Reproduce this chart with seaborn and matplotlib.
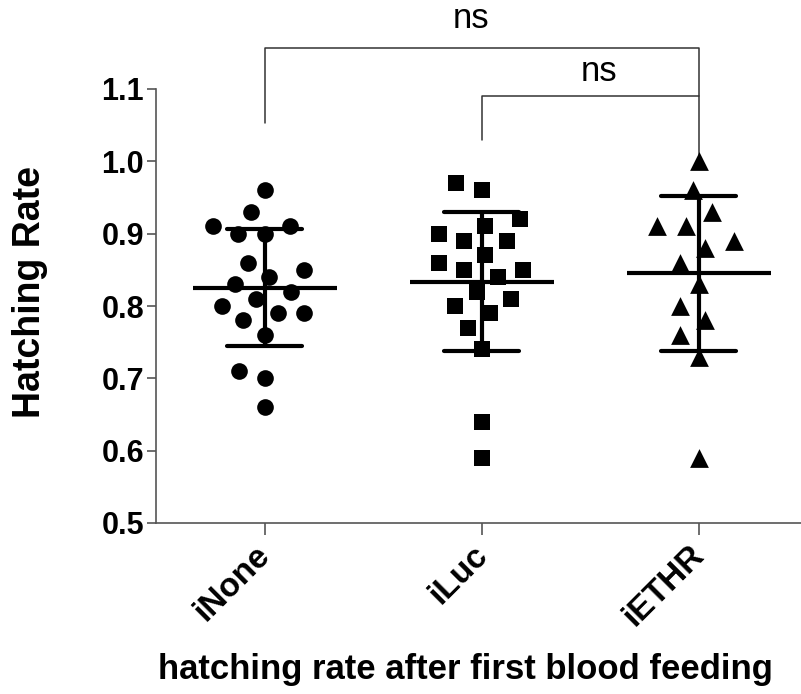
import numpy as np
import pandas as pd
import matplotlib
matplotlib.use("Agg")
import matplotlib.pyplot as plt
from matplotlib.markers import MarkerStyle
from matplotlib.transforms import Affine2D, ScaledTranslation
import seaborn as sns

# Hatching rates per group
groups = ["iNone", "iLuc", "iETHR"]
inone = [0.96, 0.93, 0.91, 0.90, 0.90, 0.91, 0.86, 0.85, 0.84, 0.83,
         0.82, 0.81, 0.80, 0.79, 0.79, 0.78, 0.76, 0.71, 0.70, 0.66]
iluc = [0.96, 0.97, 0.91, 0.92, 0.89, 0.89, 0.90, 0.87, 0.86, 0.85,
        0.85, 0.84, 0.82, 0.81, 0.80, 0.79, 0.77, 0.74, 0.64, 0.59]
iethr = [1.00, 0.96, 0.93, 0.91, 0.91, 0.89, 0.88, 0.86, 0.83, 0.80,
         0.78, 0.76, 0.73, 0.59]
y_ticks = [0.5, 0.6, 0.7, 0.8, 0.9, 1.0, 1.1]
comparisons = [("iNone", "iETHR", "ns"), ("iLuc", "iETHR", "ns")]

df = pd.DataFrame({
    "group": ["iNone"] * len(inone) + ["iLuc"] * len(iluc) + ["iETHR"] * len(iethr),
    "rate": inone + iluc + iethr,
})

sns.set_theme(style="ticks")
plt.rcParams["font.family"] = ["Liberation Sans", "DejaVu Sans"]
plt.rcParams["text.color"] = "black"
plt.rcParams["xtick.labelcolor"] = "black"
plt.rcParams["ytick.labelcolor"] = "black"

W, H = 801, 694
fig = plt.figure(figsize=(W / 100, H / 100), dpi=100)
ax = fig.add_axes([156 / W, 1 - 523 / H, 651 / W, 434 / H])

# swarm spacing uses a larger footprint than the drawn glyph
spread = 1.5
shapes = {"iNone": "o", "iLuc": "s", "iETHR": "^"}
glyph_pt = {"iNone": 12, "iLuc": 12, "iETHR": 13.5}
for g in groups:
    mk = MarkerStyle(shapes[g], transform=Affine2D().scale(1 / spread))
    sns.swarmplot(data=df[df.group == g], x="group", y="rate", order=groups,
                  marker=mk, size=glyph_pt[g] * spread, color="black",
                  linewidth=0, ax=ax, warn_thresh=1.0, zorder=3)

# mean line with SD whiskers
sns.pointplot(data=df, x="group", y="rate", order=groups, errorbar="sd",
              capsize=0.35, markers="_", markersize=104, markeredgewidth=3,
              linestyle="none", color="black",
              err_kws={"linewidth": 3}, ax=ax, zorder=4)

ax.set_xlim(-0.5, 2.5)
ax.set_ylim(0.5, 1.1)
ax.set_yticks(y_ticks)
ax.set_yticklabels([f"{t:.1f}" for t in y_ticks])
ax.set_xlabel("")
ax.set_ylabel("")

for side in ["top", "right"]:
    ax.spines[side].set_visible(False)
for side in ["left", "bottom"]:
    ax.spines[side].set_linewidth(1.2)
    ax.spines[side].set_color("#555555")

ax.tick_params(axis="y", length=6.5, width=1.2, color="#555555", pad=2,
               labelsize=22)
ax.tick_params(axis="x", length=8.5, width=1.2, color="#555555", pad=3,
               labelsize=24)
for lab in ax.get_yticklabels():
    lab.set_fontweight("bold")
shift = ScaledTranslation(-7 / 72, 0, fig.dpi_scale_trans)
for lab in ax.get_xticklabels():
    lab.set_fontweight("bold")
    lab.set_rotation(45)
    lab.set_ha("right")
    lab.set_rotation_mode("anchor")
    lab.set_transform(lab.get_transform() + shift)

# significance brackets
pos = {g: i for i, g in enumerate(groups)}
bracket_kw = dict(color="#333333", linewidth=1.1, clip_on=False)
(a1, b1, t1), (a2, b2, t2) = comparisons
ax.plot([pos[a1], pos[a1], pos[b1], pos[b1]], [1.053, 1.156, 1.156, 1.091], **bracket_kw)
ax.text((pos[a1] + pos[b1]) / 2 - 0.05, 1.175, t1, ha="center", va="bottom",
        fontsize=25, color="black")
ax.plot([pos[a2], pos[a2], pos[b2], pos[b2]], [1.030, 1.091, 1.091, 0.991], **bracket_kw)
ax.text((pos[a2] + pos[b2]) / 2 + 0.04, 1.102, t2, ha="center", va="bottom",
        fontsize=25, color="black")

fig.text(30 / W, 1 - 292 / H, "Hatching Rate", rotation=90, ha="center",
         va="center", fontsize=27, fontweight="bold")
fig.text(465 / W, 1 - 670 / H, "hatching rate after first blood feeding",
         ha="center", va="center", fontsize=25, fontweight="bold")

fig.savefig("out.png", dpi=100)
